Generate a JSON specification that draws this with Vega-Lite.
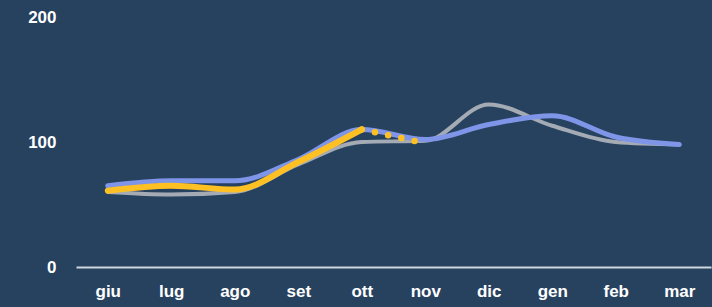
{
  "$schema": "https://vega.github.io/schema/vega-lite/v6.json",
  "autosize": {"type": "none"},
  "padding": {"left": 76, "top": 17, "right": 1, "bottom": 40},
  "width": 635,
  "height": 250,
  "background": "#27425F",
  "config": {
    "view": {"stroke": null},
    "axis": {"labelFont": "Liberation Sans", "labelFontWeight": "bold", "labelFontSize": 17, "labelColor": "#FFFFFF", "ticks": false, "grid": false, "title": null}
  },
  "data": {
    "values": [
      {"month": "giu", "series": "gray", "value": 60},
      {"month": "lug", "series": "gray", "value": 58},
      {"month": "ago", "series": "gray", "value": 60},
      {"month": "set", "series": "gray", "value": 82},
      {"month": "ott", "series": "gray", "value": 100},
      {"month": "nov", "series": "gray", "value": 101},
      {"month": "dic", "series": "gray", "value": 130},
      {"month": "gen", "series": "gray", "value": 113},
      {"month": "feb", "series": "gray", "value": 100},
      {"month": "mar", "series": "gray", "value": 98},
      {"month": "giu", "series": "blue", "value": 65},
      {"month": "lug", "series": "blue", "value": 69},
      {"month": "ago", "series": "blue", "value": 69},
      {"month": "set", "series": "blue", "value": 86},
      {"month": "ott", "series": "blue", "value": 110},
      {"month": "nov", "series": "blue", "value": 102},
      {"month": "dic", "series": "blue", "value": 114},
      {"month": "gen", "series": "blue", "value": 121},
      {"month": "feb", "series": "blue", "value": 104},
      {"month": "mar", "series": "blue", "value": 98},
      {"month": "giu", "series": "yellow", "value": 61},
      {"month": "lug", "series": "yellow", "value": 65},
      {"month": "ago", "series": "yellow", "value": 62},
      {"month": "set", "series": "yellow", "value": 84},
      {"month": "ott", "series": "yellow", "value": 110},
      {"month": "ott", "series": "yellowproj", "value": 110},
      {"month": "nov", "series": "yellowproj", "value": 99}
    ]
  },
  "encoding": {
    "x": {
      "field": "month", "type": "ordinal",
      "sort": ["giu","lug","ago","set","ott","nov","dic","gen","feb","mar"],
      "scale": {"type": "point", "padding": 0.5, "domain": ["giu","lug","ago","set","ott","nov","dic","gen","feb","mar"]},
      "axis": {"labelAngle": 0, "domain": true, "domainColor": "#D0D6DE", "domainWidth": 2, "labelPadding": 16, "labelBaseline": "top"}
    },
    "y": {
      "field": "value", "type": "quantitative",
      "scale": {"domain": [0, 200], "nice": false},
      "axis": {"values": [0, 100, 200], "domain": false, "labelPadding": 20}
    }
  },
  "layer": [
    {
      "transform": [{"filter": "datum.series === 'gray'"}],
      "mark": {"type": "line", "interpolate": "monotone", "color": "#A5ABB5", "strokeWidth": 4, "strokeCap": "round"}
    },
    {
      "transform": [{"filter": "datum.series === 'blue'"}],
      "mark": {"type": "line", "interpolate": "monotone", "color": "#7F95E8", "strokeWidth": 5, "strokeCap": "round"}
    },
    {
      "transform": [{"filter": "datum.series === 'yellowproj'"}],
      "mark": {"type": "line", "interpolate": "monotone", "color": "#FFC024", "strokeWidth": 6.5, "strokeCap": "round", "strokeDash": [0, 13.5]}
    },
    {
      "transform": [{"filter": "datum.series === 'yellow'"}],
      "mark": {"type": "line", "interpolate": "monotone", "color": "#FFC024", "strokeWidth": 6, "strokeCap": "round"}
    }
  ]
}
